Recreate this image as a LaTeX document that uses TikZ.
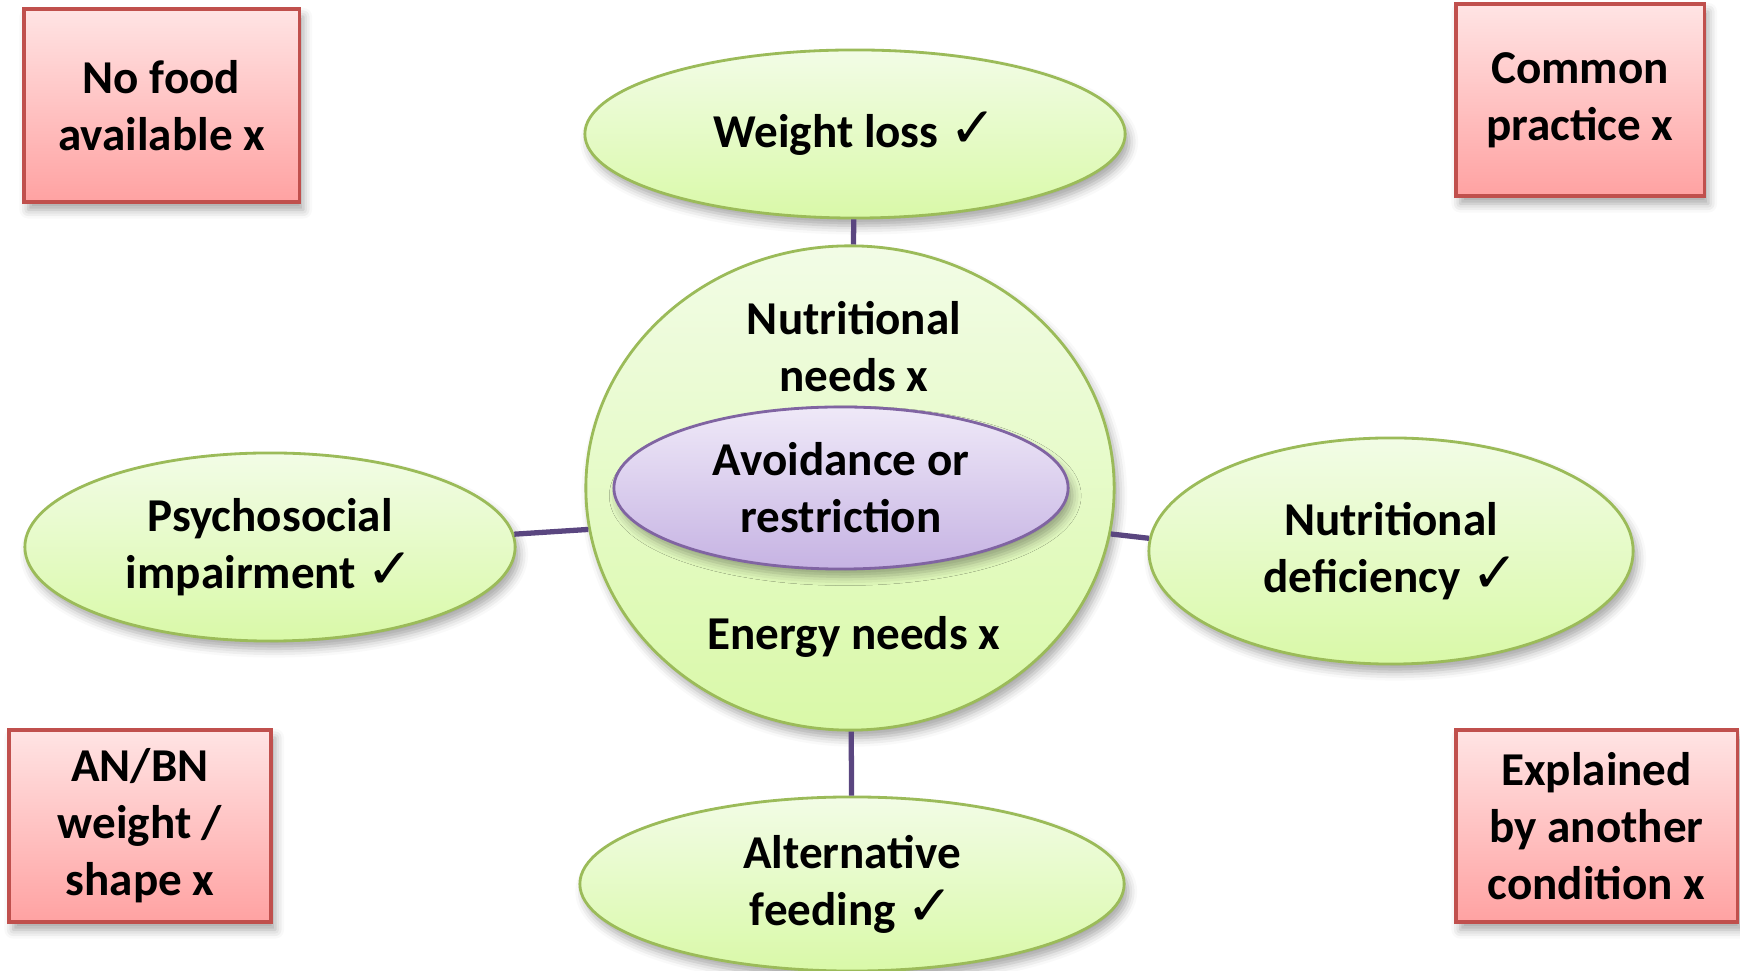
\documentclass[tikz,border=0pt]{standalone}
\usepackage{fontspec}
\setmainfont{Carlito}
\newfontfamily\symf{DejaVu Sans}
\usetikzlibrary{shapes.geometric,shadows.blur}
\definecolor{boxtop}{HTML}{FFE4E4}
\definecolor{boxbot}{HTML}{FFA2A2}
\definecolor{boxline}{HTML}{C0504D}
\definecolor{grtop}{HTML}{F2FCE6}
\definecolor{grbot}{HTML}{D9F9A8}
\definecolor{grline}{HTML}{9BBB59}
\definecolor{putop}{HTML}{EFE9F8}
\definecolor{pubot}{HTML}{C6B3E3}
\definecolor{puline}{HTML}{8064A2}
\definecolor{conn}{HTML}{5A4680}
\newcommand\ck{{\symf\scalebox{1.2}{✓}}}
\tikzset{
  shd/.style={blur shadow={shadow xshift=1.2pt,shadow yshift=-2.2pt,shadow blur radius=2.5pt,shadow opacity=35}},
  redbox/.style={rectangle,draw=boxline,line width=0.9pt,top color=boxtop,bottom color=boxbot,inner sep=0pt,align=center,shd},
  grell/.style={ellipse,draw=grline,line width=0.8pt,top color=grtop,bottom color=grbot,inner sep=0pt,align=center,shd},
  puell/.style={ellipse,draw=puline,line width=0.8pt,top color=putop,bottom color=pubot,inner sep=0pt,align=center,shd},
  link/.style={draw=conn,line width=1.5pt},
  lbl/.style={align=center,inner sep=0pt}
}
\begin{document}
\begin{tikzpicture}[x=0.01cm,y=-0.01cm,font=\fontsize{13.4}{16.2}\selectfont\bfseries]
\useasboundingbox (0,0) rectangle (1740,971);
% central circle and ellipses
\node[grell,minimum width=5.28cm,minimum height=4.84cm] (circ) at (850,488) {};
\node[grell,minimum width=5.40cm,minimum height=1.68cm] (top) at (855,134) {Weight loss \ck};
\node[grell,minimum width=4.90cm,minimum height=1.88cm] (left) at (270,547) {Psychosocial\\impairment \ck};
\node[grell,minimum width=4.84cm,minimum height=2.26cm] (right) at (1391,551) {Nutritional\\deficiency \ck};
\node[grell,minimum width=5.44cm,minimum height=1.74cm] (bot) at (852,884) {Alternative\\feeding \ck};
% connectors
\draw[link] (top) -- (circ);
\draw[link] (bot) -- (circ);
\draw[link] (left.3) -- (circ.189.5);
\draw[link] (right.177) -- (circ.-10);
% inner content
\node[lbl] (nn) at (854,347) {Nutritional\\needs x};
\node[puell,minimum width=4.54cm,minimum height=1.62cm] (avr) at (841,488) {Avoidance or\\restriction};
\node[lbl] (en) at (854,637) {Energy needs x};
% red boxes
\node[redbox,minimum width=2.75cm,minimum height=1.93cm] (nofood) at (161.5,105.5) {No food\\available x};
\node[redbox,minimum width=2.48cm,minimum height=1.92cm] (common) at (1580,100) {Common\\practice x};
\node[redbox,minimum width=2.62cm,minimum height=1.92cm] (anbn) at (140,826) {AN/BN\\weight /\\shape x};
\node[redbox,minimum width=2.81cm,minimum height=1.92cm] (expl) at (1596.5,826) {Explained\\by another\\condition x};
\end{tikzpicture}
\end{document}
